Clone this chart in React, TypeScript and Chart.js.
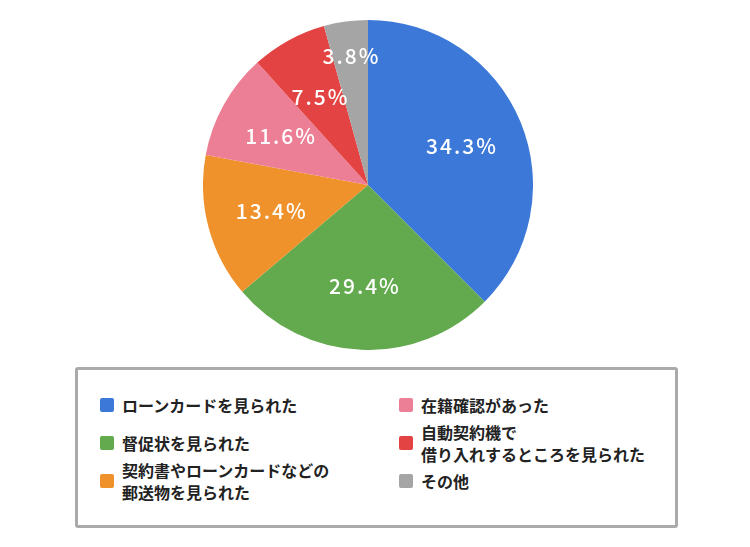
import { useEffect, useRef } from "react";
import { Chart, registerables } from "chart.js";

Chart.register(...registerables);

const categories = [
    "ローンカードを見られた",
    "督促状を見られた",
    "契約書やローンカードなどの\n郵送物を見られた",
    "在籍確認があった",
    "自動契約機で\n借り入れするところを見られた",
    "その他",
];
// slice sizes as drawn in the picture
const sliceValues = [37.5, 26.3, 14.1, 10.4, 7.4, 4.3];
// percentages printed on the slices
const shareLabels = ["34.3%", "29.4%", "13.4%", "11.6%", "7.5%", "3.8%"];
const sliceColors = ["#3c78d8", "#63a94e", "#f0922c", "#ec7f95", "#e34443", "#a5a5a5"];

const FONT = "'Noto Sans CJK JP', 'Noto Sans', sans-serif";

// percentage text inside each slice, pushed outward when the slice is narrow
const sliceLabels = {
    id: "sliceLabels",
    afterDatasetsDraw(chart: Chart) {
        const ctx = chart.ctx as any;
        const meta = chart.getDatasetMeta(0);
        ctx.save();
        ctx.font = `500 21px ${FONT}`;
        ctx.letterSpacing = "2px";
        ctx.fillStyle = "#ffffff";
        ctx.textAlign = "center";
        ctx.textBaseline = "middle";
        meta.data.forEach((el: any, i: number) => {
            const { x, y, startAngle, endAngle, outerRadius } = el.getProps(
                ["x", "y", "startAngle", "endAngle", "outerRadius"],
                true,
            );
            const text = shareLabels[i];
            const mid = (startAngle + endAngle) / 2;
            const half = (endAngle - startAngle) / 2;
            const w = ctx.measureText(text).width;
            let dist = outerRadius * 0.61;
            const need = (w * 0.4) / Math.sin(Math.min(half, Math.PI / 2));
            if (need > dist) dist = Math.min(need, outerRadius * 0.79);
            ctx.fillText(text, x + Math.cos(mid) * dist + 1, y + Math.sin(mid) * dist);
        });
        ctx.restore();
    },
};

const PieChart = () => {
    const chartRef = useRef<HTMLCanvasElement>(null);
    const chartInstanceRef = useRef<Chart | null>(null);

    useEffect(() => {
        if (!chartRef.current) return;
        chartInstanceRef.current?.destroy();

        chartInstanceRef.current = new Chart(chartRef.current, {
            type: "pie",
            data: {
                labels: categories,
                datasets: [
                    {
                        data: sliceValues,
                        backgroundColor: sliceColors,
                        borderWidth: 0,
                    },
                ],
            },
            options: {
                animation: false,
                responsive: true,
                maintainAspectRatio: false,
                layout: { padding: 0 },
                plugins: {
                    legend: { display: false },
                    tooltip: { enabled: false },
                },
            },
            plugins: [sliceLabels],
        });

        return () => {
            chartInstanceRef.current?.destroy();
            chartInstanceRef.current = null;
        };
    }, []);

    return (
        <div style={{ position: "absolute", left: 203, top: 20, width: 330, height: 330 }}>
            <canvas ref={chartRef} />
        </div>
    );
};

const Legend = () => (
    <div
        style={{
            position: "absolute",
            left: 75,
            top: 367,
            width: 603,
            height: 161,
            boxSizing: "border-box",
            border: "3px solid #aaaaaa",
            borderRadius: 3,
        }}
    >
        <div
            style={{
                position: "absolute",
                left: 22,
                top: 16,
                display: "grid",
                gridTemplateColumns: "299px 270px",
                gridTemplateRows: "38px 38px 38px",
                gridAutoFlow: "column",
                fontFamily: FONT,
                fontSize: 16,
                fontWeight: 700,
                color: "#222222",
            }}
        >
            {categories.map((c, i) => (
                <div key={c} style={{ display: "flex", alignItems: "center" }}>
                    <span
                        style={{
                            width: 14,
                            height: 14,
                            borderRadius: 2,
                            background: sliceColors[i],
                            marginRight: 8,
                            flexShrink: 0,
                        }}
                    />
                    <span style={{ whiteSpace: "pre-line", lineHeight: "22px" }}>{c}</span>
                </div>
            ))}
        </div>
    </div>
);

export default function App() {
    return (
        <div
            style={{
                position: "absolute",
                left: 0,
                top: 0,
                width: 750,
                height: 547,
                background: "#ffffff",
            }}
        >
            <PieChart />
            <Legend />
        </div>
    );
}
